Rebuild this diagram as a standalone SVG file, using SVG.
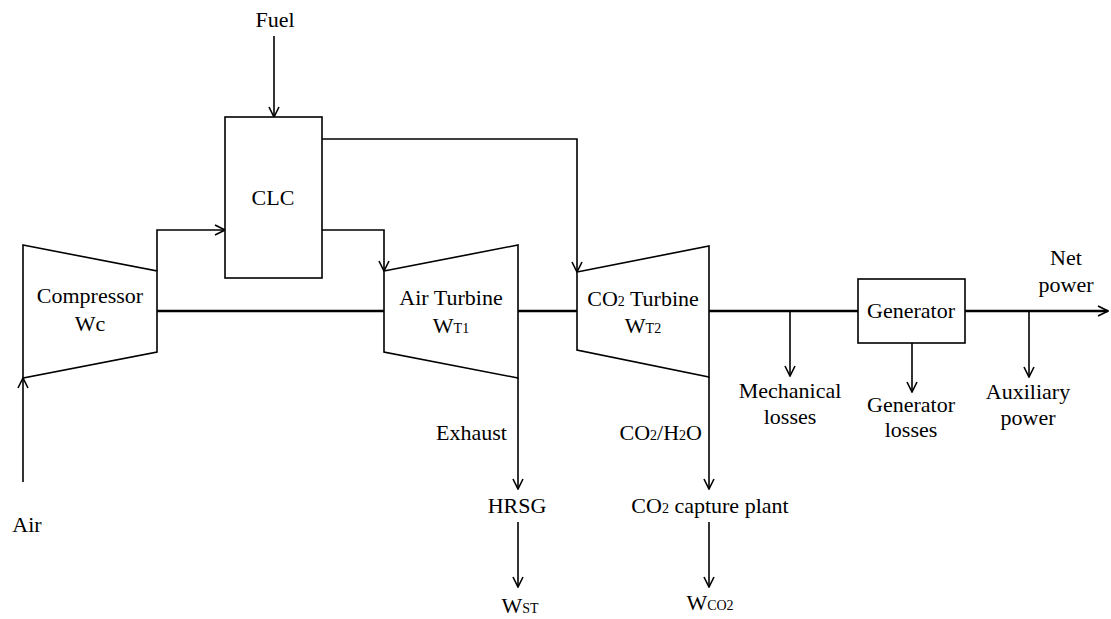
<svg xmlns="http://www.w3.org/2000/svg" width="1111" height="619" viewBox="0 0 1111 619">
<style>
text{font-family:"Liberation Serif","Times New Roman",serif;font-size:22px;fill:#000;text-anchor:middle}
.sub{font-size:14px}
.ln{fill:none;stroke:#000;stroke-width:1.6}
.shaft{fill:none;stroke:#000;stroke-width:2.6}
.shape{fill:#fff;stroke:#000;stroke-width:1.6}
</style>
<defs>
<marker id="ar" viewBox="0 0 12 12" refX="11" refY="6" markerWidth="12" markerHeight="12" markerUnits="userSpaceOnUse" orient="auto">
<path d="M1,1 L11,6 L1,11" fill="none" stroke="#000" stroke-width="1.6"/>
</marker>
</defs>
<g id="connectors">
<line class="shaft" x1="157" y1="311" x2="384" y2="311"/>
<line class="shaft" x1="518" y1="311" x2="577" y2="311"/>
<line class="shaft" x1="709" y1="311" x2="858" y2="311"/>
<polyline class="shaft" points="965,311 1108,311" marker-end="url(#ar)"/>
<line class="ln" x1="274" y1="36" x2="274" y2="117" marker-end="url(#ar)"/>
<line class="ln" x1="23" y1="482" x2="23" y2="378" marker-end="url(#ar)"/>
<polyline class="ln" points="157,271 157,230 225,230" marker-end="url(#ar)"/>
<polyline class="ln" points="322,230 384,230 384,271" marker-end="url(#ar)"/>
<polyline class="ln" points="322,139 577,139 577,272" marker-end="url(#ar)"/>
<line class="ln" x1="790" y1="311" x2="790" y2="376" marker-end="url(#ar)"/>
<line class="ln" x1="912" y1="343" x2="912" y2="392" marker-end="url(#ar)"/>
<line class="ln" x1="1029" y1="311" x2="1029" y2="377" marker-end="url(#ar)"/>
<line class="ln" x1="518" y1="378" x2="518" y2="489" marker-end="url(#ar)"/>
<line class="ln" x1="518" y1="522" x2="518" y2="587" marker-end="url(#ar)"/>
<line class="ln" x1="709" y1="377" x2="709" y2="489" marker-end="url(#ar)"/>
<line class="ln" x1="709" y1="522" x2="709" y2="587" marker-end="url(#ar)"/>
</g>
<g id="compressor">
<polygon class="shape" points="23,245 157,271 157,352 23,378"/>
<text x="90" y="303">Compressor</text>
<text x="90" y="331">Wc</text>
</g>
<g id="clc">
<rect class="shape" x="225" y="117" width="97" height="161"/>
<text x="273" y="205">CLC</text>
</g>
<g id="air-turbine">
<polygon class="shape" points="384,271 518,245 518,378 384,352"/>
<text x="451" y="305">Air Turbine</text>
<text x="451" y="333">W<tspan class="sub">T1</tspan></text>
</g>
<g id="co2-turbine">
<polygon class="shape" points="577,272 709,246 709,377 577,350"/>
<text x="643" y="306">CO<tspan class="sub">2</tspan> Turbine</text>
<text x="643" y="333">W<tspan class="sub">T2</tspan></text>
</g>
<g id="generator">
<rect class="shape" x="858" y="279" width="107" height="64"/>
<text x="911" y="318">Generator</text>
</g>
<g id="labels">
<text x="275" y="27">Fuel</text>
<text x="27" y="532">Air</text>
<text x="1066" y="265">Net</text>
<text x="1066" y="292">power</text>
<text x="790" y="398">Mechanical</text>
<text x="790" y="424">losses</text>
<text x="911" y="412">Generator</text>
<text x="911" y="437">losses</text>
<text x="1028" y="399">Auxiliary</text>
<text x="1028" y="425">power</text>
<text x="507" y="440" style="text-anchor:end">Exhaust</text>
<text x="702" y="440" style="text-anchor:end">CO<tspan class="sub">2</tspan>/H<tspan class="sub">2</tspan>O</text>
<text x="517" y="513">HRSG</text>
<text x="710" y="513">CO<tspan class="sub">2</tspan> capture plant</text>
<text x="520" y="613">W<tspan class="sub">ST</tspan></text>
<text x="710" y="610">W<tspan class="sub">CO2</tspan></text>
</g>
</svg>
